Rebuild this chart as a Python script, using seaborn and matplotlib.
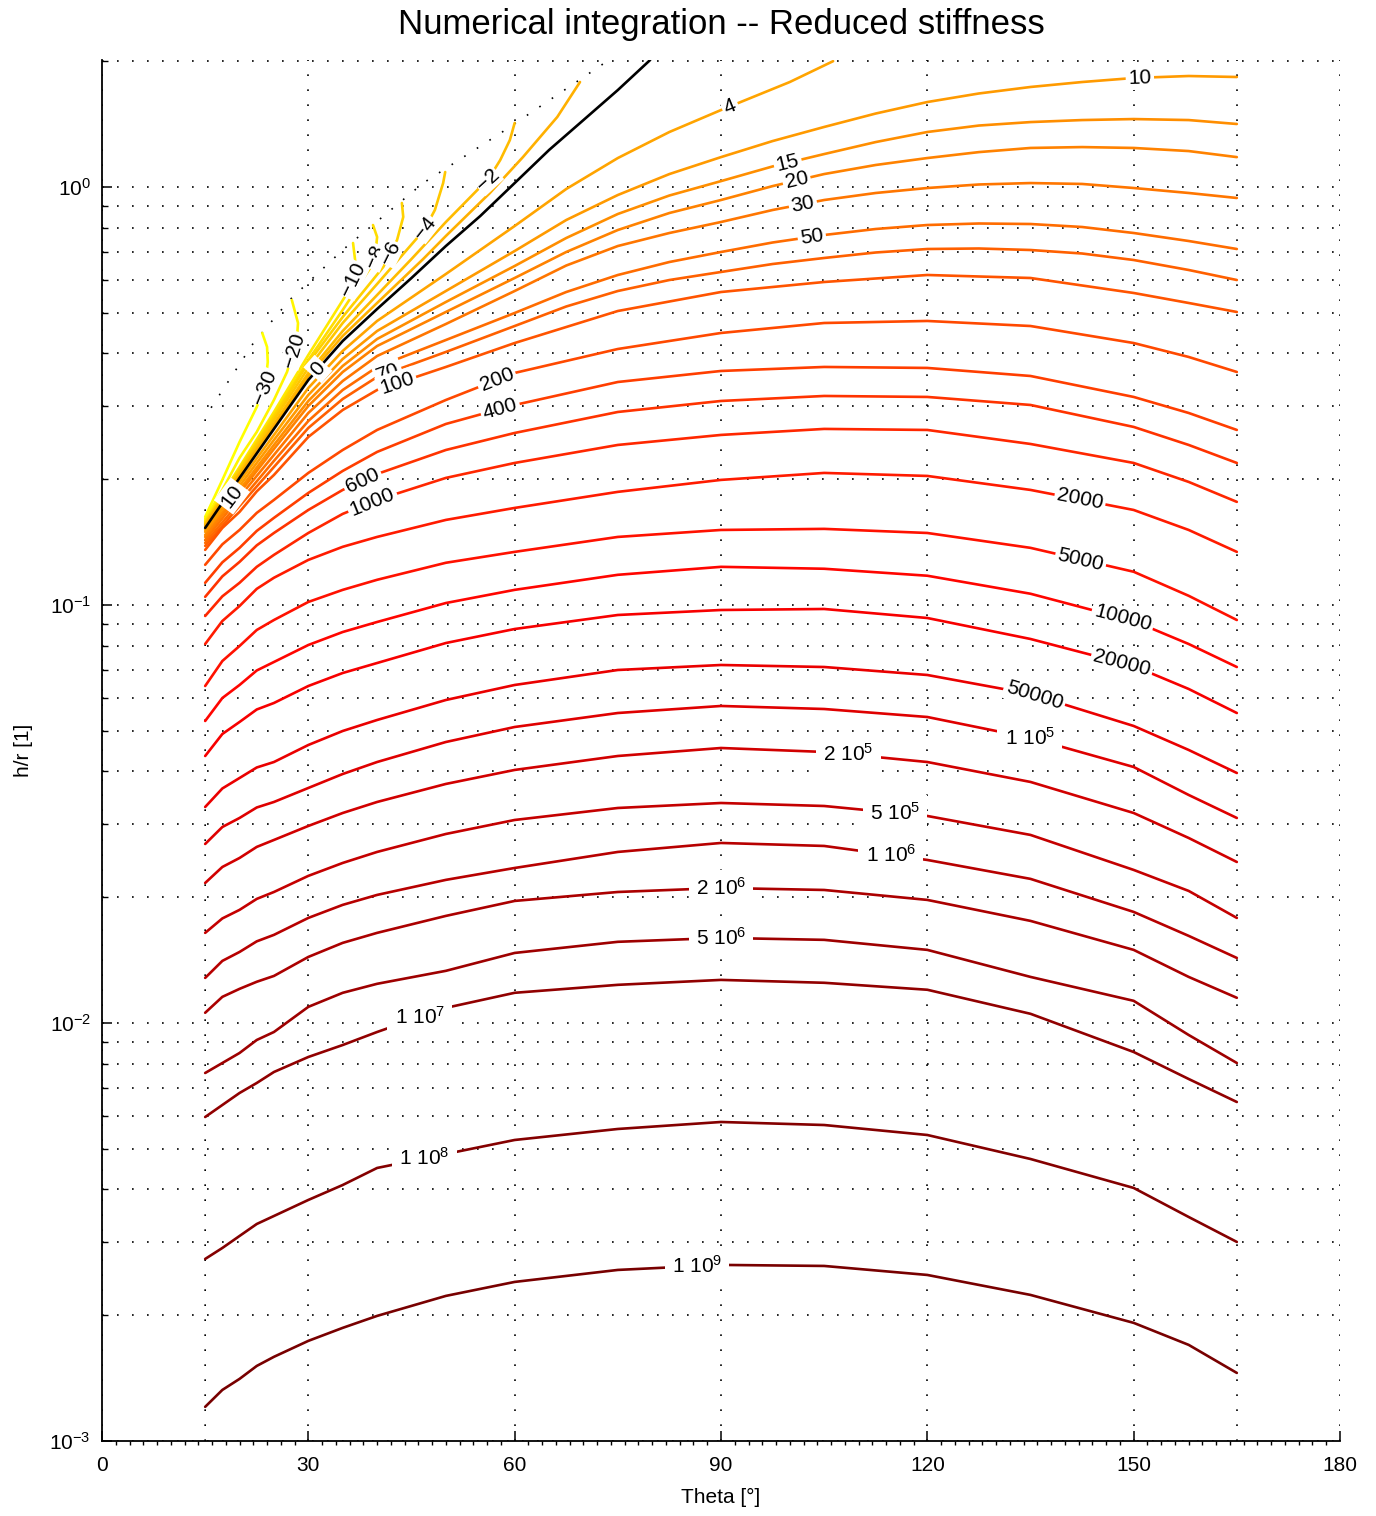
import numpy as np
import pandas as pd
import matplotlib
matplotlib.use("Agg")
import matplotlib.pyplot as plt
from matplotlib.colors import LinearSegmentedColormap, to_hex
from matplotlib.ticker import LogLocator, MultipleLocator, NullFormatter, LogFormatterMathtext
import seaborn as sns

# ------------------------------------------------------------------ data
# theta sampling (deg) for the upper levels (10 ... 70)
theta_upper = [15, 20, 25, 30, 35, 40, 50, 60, 67.5, 75, 82.5, 90, 97.5, 105, 112.5, 120,
               127.5, 135, 142.5, 150, 158, 165]
hr_10 = [0.1496, 0.1927, 0.2482, 0.3180, 0.3878, 0.4524, 0.5639, 0.7029, 0.8338, 0.9569, 1.074,
         1.179, 1.288, 1.392, 1.499, 1.597, 1.674, 1.735, 1.783, 1.823, 1.843, 1.833]
hr_15 = [0.1471, 0.1885, 0.2415, 0.3077, 0.3732, 0.4329, 0.5308, 0.6472, 0.7551, 0.8619, 0.9543,
         1.033, 1.120, 1.199, 1.281, 1.354, 1.403, 1.430, 1.446, 1.454, 1.446, 1.415]
hr_20 = [0.1455, 0.1854, 0.2362, 0.2994, 0.3610, 0.4165, 0.5024, 0.6058, 0.6991, 0.7891, 0.8666,
         0.9309, 1.005, 1.074, 1.129, 1.173, 1.212, 1.240, 1.246, 1.240, 1.219, 1.179]
hr_30 = [0.1431, 0.1814, 0.2286, 0.2880, 0.3435, 0.3942, 0.4702, 0.5639, 0.6489, 0.7225, 0.7762,
         0.8247, 0.8810, 0.9309, 0.9676, 0.9945, 1.014, 1.022, 1.017, 0.9945, 0.9676, 0.9413]
hr_50 = [0.1408, 0.1765, 0.2212, 0.2756, 0.3269, 0.3711, 0.4305, 0.4996, 0.5608, 0.6159, 0.6616,
         0.6991, 0.7366, 0.7677, 0.7935, 0.8111, 0.8179, 0.8156, 0.8023, 0.7762, 0.7427, 0.7107]
hr_70 = [0.1385, 0.1726, 0.2139, 0.2652, 0.3111, 0.3512, 0.4031, 0.4650, 0.5178, 0.5639, 0.5991,
         0.6262, 0.6543, 0.6764, 0.6972, 0.7107, 0.7127, 0.7068, 0.6933, 0.6689, 0.6331, 0.5991]

# theta sampling (deg) for the lower levels (100 ... 1e9)
theta_lower = [15, 17.5, 20, 22.5, 25, 30, 35, 40, 50, 60, 75, 90, 105, 120, 135, 150, 158, 165]
hr_100 = [0.1355, 0.1529, 0.1670, 0.1870, 0.2047, 0.2524, 0.2928, 0.3269, 0.3711, 0.4234, 0.5051,
          0.5608, 0.5926, 0.6159, 0.6058, 0.5578, 0.5279, 0.5024]
hr_200 = [0.1248, 0.1397, 0.1512, 0.1661, 0.1784, 0.2070, 0.2349, 0.2623, 0.3094, 0.3591, 0.4097,
          0.4475, 0.4728, 0.4781, 0.4650, 0.4234, 0.3921, 0.3610]
hr_400 = [0.1130, 0.1265, 0.1370, 0.1504, 0.1616, 0.1854, 0.2093, 0.2324, 0.2711, 0.3010, 0.3416,
          0.3630, 0.3711, 0.3691, 0.3531, 0.3146, 0.2880, 0.2623]
hr_600 = [0.1046, 0.1171, 0.1268, 0.1389, 0.1487, 0.1688, 0.1885, 0.2058, 0.2349, 0.2580, 0.2896,
          0.3077, 0.3163, 0.3146, 0.3010, 0.2667, 0.2415, 0.2187]
hr_1000 = [0.09413, 0.1049, 0.1130, 0.1234, 0.1318, 0.1487, 0.1652, 0.1784, 0.2014, 0.2187, 0.2415,
           0.2552, 0.2638, 0.2623, 0.2428, 0.2187, 0.1970, 0.1765]
hr_2000 = [0.08067, 0.09157, 0.09945, 0.1093, 0.1162, 0.1282, 0.1378, 0.1455, 0.1598, 0.1707, 0.1865,
           0.1992, 0.2070, 0.2036, 0.1885, 0.1688, 0.1512, 0.1340]
hr_5000 = [0.06401, 0.07346, 0.07979, 0.08714, 0.09207, 0.1017, 0.1087, 0.1149, 0.1262, 0.1340, 0.1455,
           0.1512, 0.1521, 0.1487, 0.1370, 0.1201, 0.1052, 0.09207]
hr_1e4 = [0.05279, 0.05991, 0.06437, 0.06972, 0.07306, 0.08023, 0.08618, 0.09107, 0.1011, 0.1087,
          0.1181, 0.1234, 0.1221, 0.1175, 0.1064, 0.09157, 0.08067, 0.07107]
hr_2e4 = [0.04353, 0.04914, 0.05250, 0.05624, 0.05829, 0.06401, 0.06876, 0.07265, 0.08111, 0.08762,
          0.09465, 0.09729, 0.09783, 0.09309, 0.08293, 0.07147, 0.06297, 0.05516]
hr_5e4 = [0.03287, 0.03640, 0.03856, 0.04086, 0.04211, 0.04625, 0.04996, 0.05308, 0.05926, 0.06437,
          0.06991, 0.07186, 0.07107, 0.06801, 0.06125, 0.05136, 0.04500, 0.03964]
hr_1e5 = [0.02681, 0.02944, 0.03094, 0.03278, 0.03379, 0.03650, 0.03942, 0.04211, 0.04702, 0.05107,
          0.05516, 0.05734, 0.05639, 0.05396, 0.04807, 0.04097, 0.03512, 0.03094]
hr_2e5 = [0.02163, 0.02362, 0.02482, 0.02638, 0.02741, 0.02961, 0.03180, 0.03379, 0.03732, 0.04031,
          0.04353, 0.04549, 0.04451, 0.04211, 0.03773, 0.03180, 0.02771, 0.02428]
hr_5e5 = [0.01643, 0.01779, 0.01865, 0.01981, 0.02058, 0.02249, 0.02415, 0.02566, 0.02833, 0.03060,
          0.03269, 0.03360, 0.03305, 0.03128, 0.02818, 0.02324, 0.02070, 0.01784]
hr_1e6 = [0.01282, 0.01408, 0.01479, 0.01568, 0.01625, 0.01784, 0.01917, 0.02025, 0.02200, 0.02349,
          0.02566, 0.02696, 0.02652, 0.02455, 0.02212, 0.01844, 0.01616, 0.01431]
hr_2e6 = [0.01058, 0.01155, 0.01207, 0.01255, 0.01296, 0.01439, 0.01555, 0.01643, 0.01804, 0.01959,
          0.02058, 0.02104, 0.02081, 0.01970, 0.01755, 0.01496, 0.01289, 0.01149]
hr_5e6 = [0.007593, 0.008023, 0.008478, 0.009107, 0.009517, 0.01093, 0.01181, 0.01241, 0.01333,
          0.01471, 0.01564, 0.01598, 0.01581, 0.01496, 0.01289, 0.01130, 0.009361, 0.008023]
hr_1e7 = [0.005958, 0.006366, 0.006801, 0.007186, 0.007635, 0.008293, 0.008858, 0.009517, 0.01087,
          0.01181, 0.01234, 0.01268, 0.01248, 0.01201, 0.01052, 0.008524, 0.007346, 0.006472]
hr_1e8 = [0.002726, 0.002896, 0.003094, 0.003305, 0.003454, 0.003773, 0.004097, 0.004500, 0.004860,
          0.005250, 0.005578, 0.005797, 0.005701, 0.005396, 0.004728, 0.004031, 0.003435, 0.002994]
hr_1e9 = [0.001207, 0.001325, 0.001408, 0.001512, 0.001590, 0.001736, 0.001865, 0.001992, 0.002224,
          0.002402, 0.002566, 0.002638, 0.002623, 0.002496, 0.002236, 0.001917, 0.001698, 0.001455]

# levels that stop on the domain edge (own theta sampling)
theta_4 = [15, 20, 25, 30, 35, 40, 50, 60, 67.5, 75, 82.5, 90, 100, 106.3]
hr_4 = [0.1512, 0.1970, 0.2552, 0.3305, 0.4053, 0.4781, 0.6193, 0.8067, 0.9891, 1.173, 1.354, 1.528,
        1.783, 2.0]

theta_0 = [15, 20, 25, 30, 35, 40, 45, 50, 55, 60, 65, 70, 75, 79.7]
hr_0 = [0.1529, 0.2014, 0.2638, 0.3454, 0.4282, 0.5107, 0.6058, 0.7225, 0.8524, 1.022, 1.226, 1.446,
        1.706, 2.013]

theta_m1 = [15, 20, 25, 30, 35, 40, 46.7, 50, 56.4, 61.2, 66.2, 69.5]
hr_m1 = [0.1546, 0.2047, 0.2681, 0.3532, 0.4402, 0.5279, 0.6726, 0.7635, 0.9676, 1.179, 1.471, 1.783]

theta_m2 = [15, 20, 25, 30, 35, 40, 45, 50, 55, 56.1, 57.9, 59.3, 60.0]
hr_m2 = [0.1555, 0.2058, 0.2711, 0.3591, 0.4524, 0.5516, 0.6726, 0.8247, 1.000, 1.039, 1.160, 1.295,
         1.423]

theta_m4 = [15, 20, 25, 30, 35, 40, 46.2, 47.0, 48.4, 49.6, 49.9]
hr_m4 = [0.1564, 0.2081, 0.2771, 0.3691, 0.4728, 0.5861, 0.7677, 0.7979, 0.8810, 1.022, 1.086]

theta_m6 = [15, 20, 25, 30, 35, 40.9, 41.9, 42.9, 43.8, 43.6]
hr_m6 = [0.1572, 0.2104, 0.2818, 0.3793, 0.4887, 0.6437, 0.6952, 0.7468, 0.8478, 0.9157]

theta_m8 = [15, 20, 25, 30, 35, 39.0, 39.7, 40.0, 39.4]
hr_m8 = [0.1581, 0.2116, 0.2849, 0.3856, 0.5079, 0.6401, 0.6801, 0.7593, 0.8111]

theta_m10 = [15, 20, 25, 30, 35.3, 36.5, 36.8, 36.5]
hr_m10 = [0.1590, 0.2139, 0.2896, 0.3964, 0.5456, 0.5991, 0.6689, 0.7346]

theta_m20 = [15, 17.5, 20, 22.5, 25, 26.9, 27.9, 28.4, 28.5, 27.6]
hr_m20 = [0.1607, 0.1885, 0.2249, 0.2594, 0.3094, 0.3610, 0.4075, 0.4475, 0.4728, 0.5366]

theta_m30 = [15, 17.5, 20, 22.5, 23.7, 24.1, 24.0, 23.3]
hr_m30 = [0.1625, 0.1992, 0.2455, 0.2977, 0.3324, 0.3814, 0.4143, 0.4475]

# dotted outline of the integration domain
edge_theta = [15, 15, 22.0, 27.3, 35.0, 46.7, 58.2, 70.7, 73.7]
edge_hr = [0.001, 0.282, 0.423, 0.537, 0.707, 1.022, 1.354, 1.864, 2.013]
right_theta = [165, 165]
right_hr = [0.001, 2.013]

# contour labels: level, theta position, text
label_level = ["10", "15", "20", "30", "50", "4", "-2", "-4", "-8", "-6", "-10", "-20", "-30",
               "0", "10", "70", "100", "200", "400", "600", "1000", "2000", "5000", "10000",
               "20000", "50000", "1e5", "2e5", "5e5", "1e6", "2e6", "5e6", "1e7", "1e8", "1e9"]
label_theta = [150.9, 99.7, 101.0, 101.9, 103.2, 91.3, 56.1, 47.0, 39.7, 41.9, 36.5, 27.9, 23.7,
               31.4, 18.9, 41.6, 42.9, 57.4, 57.9, 37.9, 39.3, 142.2, 142.3, 148.4,
               148.3, 135.6, 134.9, 108.5, 115.3, 114.7, 90.0, 90.0, 46.2, 46.9, 86.5]
label_text = ["10", "15", "20", "30", "50", "4", "\u22122", "\u22124", "\u22128", "\u22126", "\u221210",
              "\u221220", "\u221230", "0", "10", "70", "100", "200", "400", "600", "1000", "2000",
              "5000", "10000", "20000", "50000",
              r"1 10$^{\mathdefault{5}}$", r"2 10$^{\mathdefault{5}}$", r"5 10$^{\mathdefault{5}}$",
              r"1 10$^{\mathdefault{6}}$", r"2 10$^{\mathdefault{6}}$", r"5 10$^{\mathdefault{6}}$",
              r"1 10$^{\mathdefault{7}}$", r"1 10$^{\mathdefault{8}}$", r"1 10$^{\mathdefault{9}}$"]

x_ticks = [0, 30, 60, 90, 120, 150, 180]

# ------------------------------------------------------------------ assemble
curves = {
    "-30": (theta_m30, hr_m30), "-20": (theta_m20, hr_m20), "-10": (theta_m10, hr_m10),
    "-8": (theta_m8, hr_m8), "-6": (theta_m6, hr_m6), "-4": (theta_m4, hr_m4),
    "-2": (theta_m2, hr_m2), "-1": (theta_m1, hr_m1), "4": (theta_4, hr_4),
    "10": (theta_upper, hr_10), "15": (theta_upper, hr_15), "20": (theta_upper, hr_20),
    "30": (theta_upper, hr_30), "50": (theta_upper, hr_50), "70": (theta_upper, hr_70),
    "100": (theta_lower, hr_100), "200": (theta_lower, hr_200), "400": (theta_lower, hr_400),
    "600": (theta_lower, hr_600), "1000": (theta_lower, hr_1000), "2000": (theta_lower, hr_2000),
    "5000": (theta_lower, hr_5000), "10000": (theta_lower, hr_1e4), "20000": (theta_lower, hr_2e4),
    "50000": (theta_lower, hr_5e4), "1e5": (theta_lower, hr_1e5), "2e5": (theta_lower, hr_2e5),
    "5e5": (theta_lower, hr_5e5), "1e6": (theta_lower, hr_1e6), "2e6": (theta_lower, hr_2e6),
    "5e6": (theta_lower, hr_5e6), "1e7": (theta_lower, hr_1e7), "1e8": (theta_lower, hr_1e8),
    "1e9": (theta_lower, hr_1e9), "0": (theta_0, hr_0),
}
colored = [k for k in curves if k != "0"]
cmap = LinearSegmentedColormap.from_list(
    "stiff", [(0.0, "#ffff00"), (0.24, "#ffa500"), (0.68, "#ff0000"), (1.0, "#780000")])
palette = {k: to_hex(cmap(i / (len(colored) - 1))) for i, k in enumerate(colored)}
palette["0"] = "#000000"
hue_order = colored + ["0"]

rows = []
for lev in hue_order:
    th, hr = curves[lev]
    for t, h in zip(th, hr):
        rows.append({"level": lev, "theta": t, "hr": h})
df = pd.DataFrame(rows)

# ------------------------------------------------------------------ style
sns.set_theme(style="white")
plt.rcParams["font.family"] = ["Liberation Sans", "DejaVu Sans"]
plt.rcParams["mathtext.fontset"] = "custom"
plt.rcParams["mathtext.rm"] = "Liberation Sans"
plt.rcParams["mathtext.it"] = "Liberation Sans:italic"
plt.rcParams["mathtext.bf"] = "Liberation Sans:bold"
plt.rcParams["axes.unicode_minus"] = True

fig = plt.figure(figsize=(13.76, 15.16), dpi=100)
fig.patch.set_facecolor("white")
ax = fig.add_axes([102 / 1376, 1 - 1441 / 1516, 1238 / 1376, 1381 / 1516])
ax.set_facecolor("white")
ax.set_yscale("log")
ax.set_xlim(0, 180)
ax.set_ylim(1e-3, 2.013)

sns.lineplot(data=df, x="theta", y="hr", hue="level", hue_order=hue_order, palette=palette,
             sort=False, estimator=None, legend=False, linewidth=1.9, ax=ax, zorder=3)

dot = (0, (1, 8))
ax.plot(edge_theta, edge_hr, color="black", lw=1.2, ls=dot, zorder=2)
ax.plot(right_theta, right_hr, color="black", lw=1.2, ls=dot, zorder=2)

# grid
ax.grid(True, which="major", axis="x", color="black", lw=1.2, ls=dot)
ax.grid(True, which="both", axis="y", color="black", lw=1.2, ls=dot)
ax.set_axisbelow(True)

# ticks
ax.set_xticks(x_ticks)
ax.xaxis.set_minor_locator(MultipleLocator(2))
ax.yaxis.set_major_locator(LogLocator(base=10, numticks=10))
ax.yaxis.set_minor_locator(LogLocator(base=10, subs=np.arange(2, 10), numticks=100))
ax.yaxis.set_major_formatter(LogFormatterMathtext())
ax.yaxis.set_minor_formatter(NullFormatter())
ax.tick_params(axis="both", which="major", direction="in", length=7, width=1.1,
               labelsize=15, color="black", labelcolor="black")
ax.tick_params(axis="x", which="major", pad=11)
ax.tick_params(axis="y", which="major", pad=8)
ax.tick_params(axis="y", which="minor", direction="in", length=4, width=1.0, color="black")
ax.tick_params(axis="x", which="minor", direction="out", length=3, width=1.0, color="black")
ax.xaxis.set_ticks_position("bottom")
ax.yaxis.set_ticks_position("left")

for s in ["top", "right"]:
    ax.spines[s].set_visible(False)
for s in ["left", "bottom"]:
    ax.spines[s].set_color("black")
    ax.spines[s].set_linewidth(1.3)

ax.set_xlabel("Theta [\u00b0]", fontsize=15, labelpad=9, color="black")
ax.set_ylabel("h/r [1]", fontsize=15, labelpad=12, color="black")
ax.set_title("Numerical integration -- Reduced stiffness", fontsize=25, pad=19, color="black")

# ------------------------------------------------------------------ inline labels
def label_pos(lev, t):
    th = np.asarray(curves[lev][0], float)
    lh = np.log10(np.asarray(curves[lev][1], float))
    for i in range(len(th) - 1):
        lo, hi = min(th[i], th[i + 1]), max(th[i], th[i + 1])
        if lo <= t <= hi:
            f = 0.5 if th[i + 1] == th[i] else (t - th[i]) / (th[i + 1] - th[i])
            y = 10 ** (lh[i] + f * (lh[i + 1] - lh[i]))
            p0 = ax.transData.transform((th[i], 10 ** lh[i]))
            p1 = ax.transData.transform((th[i + 1], 10 ** lh[i + 1]))
            ang = np.degrees(np.arctan2(p1[1] - p0[1], p1[0] - p0[0]))
            if ang > 90:
                ang -= 180
            if ang < -90:
                ang += 180
            return t, y, ang
    return t, 10 ** lh[-1], 0.0

for lev, t, txt in zip(label_level, label_theta, label_text):
    x, y, ang = label_pos(lev, t)
    power_label = "$" in txt
    if power_label:
        ang = 0.0
    pad = 0.35 if power_label else (0.04 if lev.startswith("-") else 0.12)
    ax.text(x, y, txt, rotation=ang, rotation_mode="anchor", ha="center", va="center",
            fontsize=15, color="black", zorder=6,
            bbox=dict(boxstyle="square,pad=%.2f" % pad, fc="white", ec="none"))

fig.savefig("out.png", dpi=100, facecolor="white")
